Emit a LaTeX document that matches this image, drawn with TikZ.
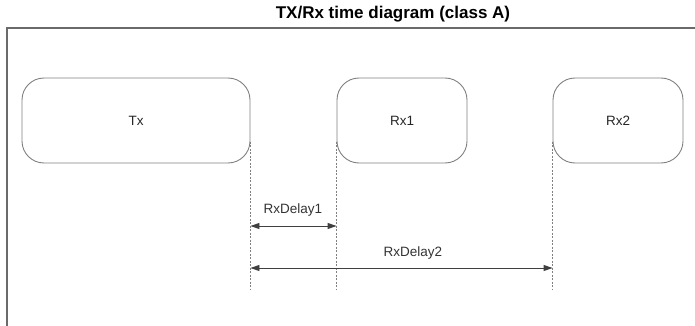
\documentclass[tikz,border=0pt]{standalone}
\usepackage{fontspec}
\setmainfont{Liberation Sans}
\usetikzlibrary{arrows.meta}
\definecolor{boxgray}{HTML}{808080}
\definecolor{framegray}{HTML}{6A6A6A}
\tikzset{
  box/.style={draw=boxgray, line width=0.9pt, rounded corners=22pt, minimum height=85pt,
    inner sep=0pt, font=\fontsize{13.5}{16}\selectfont, text=black!85},
  guide/.style={draw=boxgray, line width=0.7pt, dash pattern=on 2pt off 1.5pt},
  dimarrow/.style={draw=black!75, line width=0.9pt, {Triangle[length=9pt,width=6pt]}-{Triangle[length=9pt,width=6pt]}},
  dimlabel/.style={font=\fontsize{13.5}{16}\selectfont, text=black!80},
  frameline/.style={draw=framegray, line width=1.6pt}
}
\begin{document}
\begin{tikzpicture}[x=1pt,y=-1pt]
\useasboundingbox (0,0) rectangle (695,326);
\node[font=\fontsize{17}{20}\selectfont\bfseries] (title) at (393,14) {TX/Rx time diagram (class A)};
\draw[frameline] (7,326) -- (7,28) -- (695,28);

\node[box, minimum width=228pt] (tx) at (136,120.5) {Tx};
\node[box, minimum width=130pt] (rx1) at (402,120.5) {Rx1};
\node[box, minimum width=130pt] (rx2) at (618,120.5) {Rx2};

\coordinate (bot) at (0,289);
\coordinate (d1) at (0,226);
\coordinate (d2) at (0,268);

\draw[guide] ([yshift=-21pt]tx.east) -- (tx.east |- bot);
\draw[guide] ([yshift=-21pt]rx1.west) -- (rx1.west |- bot);
\draw[guide] ([yshift=-21pt]rx2.west) -- (rx2.west |- bot);

\draw[dimarrow] (tx.east |- d1) -- (rx1.west |- d1);
\draw[dimarrow] (tx.east |- d2) -- (rx2.west |- d2);

\node[dimlabel] (l1) at (293,210) {RxDelay1};
\node[dimlabel] (l2) at (413,253) {RxDelay2};
\end{tikzpicture}
\end{document}
